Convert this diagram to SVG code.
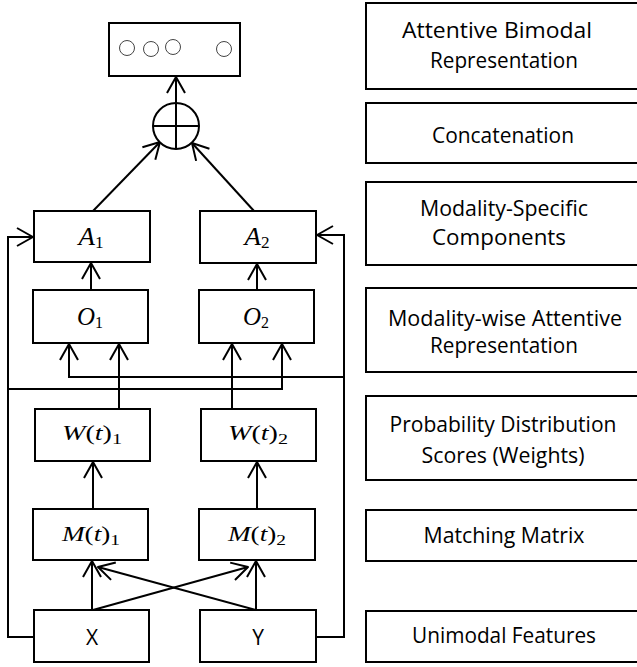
<svg xmlns="http://www.w3.org/2000/svg" width="637" height="667" viewBox="0 0 637 667">
<style>
.box{fill:#fff;stroke:#000;stroke-width:2}
.ln{fill:none;stroke:#000;stroke-width:2}
.arr{fill:none;stroke:#000;stroke-width:2;marker-end:url(#ah)}
.dot{fill:none;stroke:#444;stroke-width:1}
.lbl{font-family:"Open Sans","Liberation Sans",sans-serif;font-size:21px;fill:#000;text-anchor:middle}
.math{font-family:"Liberation Serif",serif;font-style:italic;fill:#000;text-anchor:middle}
.sub{font-style:normal}
</style>
<defs>
<marker id="ah" markerUnits="userSpaceOnUse" viewBox="-20 -12 22 24" refX="0" refY="0" markerWidth="22" markerHeight="24" orient="auto">
<path d="M-16,-9 L0,0 L-16,9" fill="none" stroke="#000" stroke-width="2" stroke-linejoin="round"/>
</marker>
</defs>
<rect width="637" height="667" fill="#fff"/>

<g id="connectors">
<path class="arr" d="M176,103 L176,77"/>
<path class="arr" d="M93,211 L160,142"/>
<path class="arr" d="M254,211 L192,143"/>
<path class="arr" d="M91,290 L91,263"/>
<path class="arr" d="M257,290 L257,264"/>
<path class="arr" d="M34,637 L8,637 L8,237 L33,237"/>
<path class="arr" d="M316,637 L344,637 L344,235 L317,235"/>
<path class="arr" d="M8,389 L282,389 L282,344"/>
<path class="arr" d="M344,377 L69,377 L69,344"/>
<path class="arr" d="M119,409 L119,344"/>
<path class="arr" d="M232,409 L232,344"/>
<path class="arr" d="M93,509 L93,462"/>
<path class="arr" d="M257,509 L257,462"/>
<path class="arr" d="M92,610 L92,561"/>
<path class="arr" d="M256,610 L256,561"/>
<path class="arr" d="M93,610 L248,567"/>
<path class="arr" d="M256,610 L98,567"/>
</g>

<g id="output">
<rect class="box" x="109" y="23" width="131" height="53" stroke-width="2.5"/>
<circle class="dot" cx="127" cy="48" r="7.5"/>
<circle class="dot" cx="151" cy="49" r="7.5"/>
<circle class="dot" cx="173" cy="47" r="7.5"/>
<circle class="dot" cx="224" cy="49" r="7.5"/>
</g>
<g id="concat">
<circle class="box" cx="176" cy="126" r="23"/>
<path class="ln" d="M153,126 L199,126 M176,103 L176,149"/>
</g>

<g id="A1"><rect class="box" x="34" y="211" width="116" height="51"/>
<text class="math" x="91" y="245" font-size="25" textLength="25" lengthAdjust="spacingAndGlyphs">A<tspan class="sub" font-size="16" dy="3">1</tspan></text></g>
<g id="A2"><rect class="box" x="200" y="211" width="116" height="52"/>
<text class="math" x="257" y="245" font-size="25" textLength="25" lengthAdjust="spacingAndGlyphs">A<tspan class="sub" font-size="16" dy="3">2</tspan></text></g>
<g id="O1"><rect class="box" x="33" y="290" width="115" height="53"/>
<text class="math" x="90" y="325" font-size="25" textLength="26" lengthAdjust="spacingAndGlyphs">O<tspan class="sub" font-size="16" dy="3">1</tspan></text></g>
<g id="O2"><rect class="box" x="199" y="290" width="115" height="53"/>
<text class="math" x="256" y="325" font-size="25" textLength="26" lengthAdjust="spacingAndGlyphs">O<tspan class="sub" font-size="16" dy="3">2</tspan></text></g>
<g id="W1"><rect class="box" x="35" y="409" width="115" height="52"/>
<text class="math" x="92" y="440" font-size="21" textLength="60" lengthAdjust="spacingAndGlyphs">W<tspan class="sub">(</tspan>t<tspan class="sub">)</tspan><tspan class="sub" font-size="15" dy="4">1</tspan></text></g>
<g id="W2"><rect class="box" x="201" y="409" width="115" height="52"/>
<text class="math" x="258" y="440" font-size="21" textLength="60" lengthAdjust="spacingAndGlyphs">W<tspan class="sub">(</tspan>t<tspan class="sub">)</tspan><tspan class="sub" font-size="15" dy="4">2</tspan></text></g>
<g id="M1"><rect class="box" x="33" y="509" width="115" height="51"/>
<text class="math" x="91" y="541" font-size="21" textLength="58" lengthAdjust="spacingAndGlyphs">M<tspan class="sub">(</tspan>t<tspan class="sub">)</tspan><tspan class="sub" font-size="15" dy="4">1</tspan></text></g>
<g id="M2"><rect class="box" x="199" y="509" width="116" height="51"/>
<text class="math" x="257" y="541" font-size="21" textLength="58" lengthAdjust="spacingAndGlyphs">M<tspan class="sub">(</tspan>t<tspan class="sub">)</tspan><tspan class="sub" font-size="15" dy="4">2</tspan></text></g>
<g id="X"><rect class="box" x="34" y="610" width="115" height="52"/>
<text class="lbl" x="92" y="645" font-size="21">X</text></g>
<g id="Y"><rect class="box" x="200" y="610" width="116" height="52"/>
<text class="lbl" x="258" y="645" font-size="21">Y</text></g>

<g id="legend1"><rect class="box" x="366" y="3" width="290" height="86"/>
<text class="lbl" x="497" y="38" textLength="190" lengthAdjust="spacingAndGlyphs">Attentive Bimodal</text>
<text class="lbl" x="504" y="68" textLength="148" lengthAdjust="spacingAndGlyphs">Representation</text></g>
<g id="legend2"><rect class="box" x="366" y="103" width="290" height="60"/>
<text class="lbl" x="503" y="143" textLength="142" lengthAdjust="spacingAndGlyphs">Concatenation</text></g>
<g id="legend3"><rect class="box" x="366" y="182" width="290" height="83"/>
<text class="lbl" x="504" y="216" textLength="168" lengthAdjust="spacingAndGlyphs">Modality-Specific</text>
<text class="lbl" x="499" y="245" textLength="134" lengthAdjust="spacingAndGlyphs">Components</text></g>
<g id="legend4"><rect class="box" x="366" y="288" width="290" height="84"/>
<text class="lbl" x="505" y="326" textLength="234" lengthAdjust="spacingAndGlyphs">Modality-wise Attentive</text>
<text class="lbl" x="504" y="353" textLength="148" lengthAdjust="spacingAndGlyphs">Representation</text></g>
<g id="legend5"><rect class="box" x="366" y="396" width="290" height="84"/>
<text class="lbl" x="503" y="432" textLength="227" lengthAdjust="spacingAndGlyphs">Probability Distribution</text>
<text class="lbl" x="503" y="463" textLength="163" lengthAdjust="spacingAndGlyphs">Scores (Weights)</text></g>
<g id="legend6"><rect class="box" x="366" y="510" width="290" height="51"/>
<text class="lbl" x="504" y="543" textLength="161" lengthAdjust="spacingAndGlyphs">Matching Matrix</text></g>
<g id="legend7"><rect class="box" x="366" y="611" width="290" height="51"/>
<text class="lbl" x="504" y="643" textLength="184" lengthAdjust="spacingAndGlyphs">Unimodal Features</text></g>
</svg>
